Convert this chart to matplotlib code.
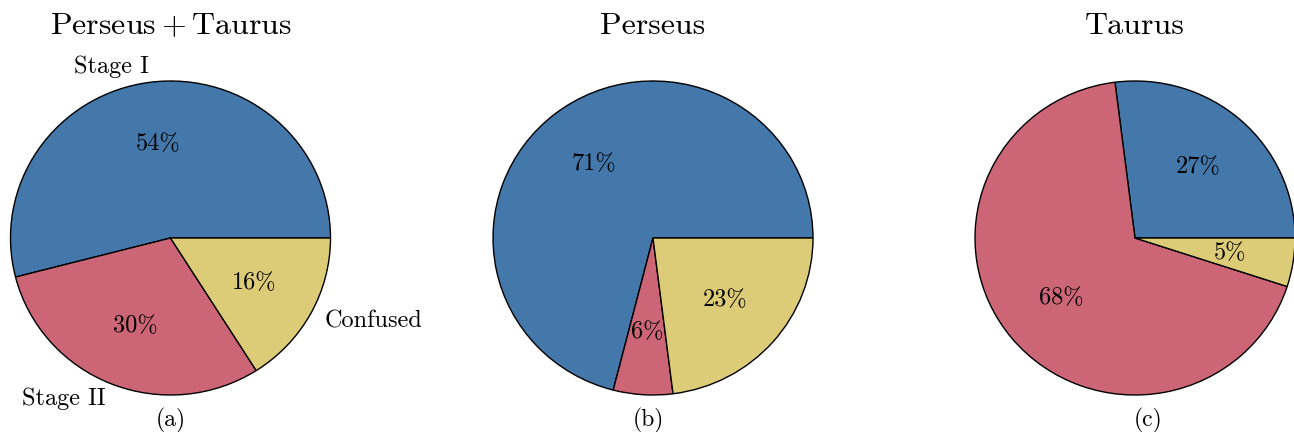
import numpy as np
import matplotlib
matplotlib.use("Agg")
import matplotlib.pyplot as plt

plt.rcParams['font.family'] = 'cmr10'
plt.rcParams['mathtext.fontset'] = 'cm'
plt.rcParams['axes.unicode_minus'] = False

# DATA
titles = [r'$\mathrm{Perseus}+\mathrm{Taurus}$', 'Perseus', 'Taurus']
panels = ['(a)', '(b)', '(c)']
stage_labels = ['Stage I', 'Stage II', 'Confused']
both_pct = [54, 30, 16]
perseus_pct = [71, 6, 23]
taurus_pct = [27, 68, 5]
colors = ['#4477AA', '#CC6677', '#DDCC77']

fig = plt.figure(figsize=(12.94, 4.32), dpi=100)
W, H = 1294.0, 432.0
centers = [170.5, 653, 1135]
panel_x = [0.5, 0.485, 0.54]
pw, ph = 320.0, 314.0

all_data = [both_pct, perseus_pct, taurus_pct]
for i in range(3):
    ax = fig.add_axes([(centers[i] - pw / 2) / W, 37 / H, pw / W, ph / H])
    if i == 0:
        labs = stage_labels
    else:
        labs = None
    ax.pie(all_data[i], labels=labs, colors=colors, autopct='%1.0f%%',
           pctdistance=0.6, labeldistance=1.1, startangle=0,
           wedgeprops={'edgecolor': 'black', 'linewidth': 1.0},
           textprops={'fontsize': 17.5})
    ax.set_aspect('auto')
    ax.set_xlim(-1, 1)
    ax.set_ylim(-1, 1)
    ax.text(0.5, 1.175, titles[i], transform=ax.transAxes, ha='center',
            va='center', fontsize=23)
    ax.text(panel_x[i], -0.08, panels[i], transform=ax.transAxes, ha='center',
            va='center', fontsize=17)

fig.savefig('out.png', dpi=100)
